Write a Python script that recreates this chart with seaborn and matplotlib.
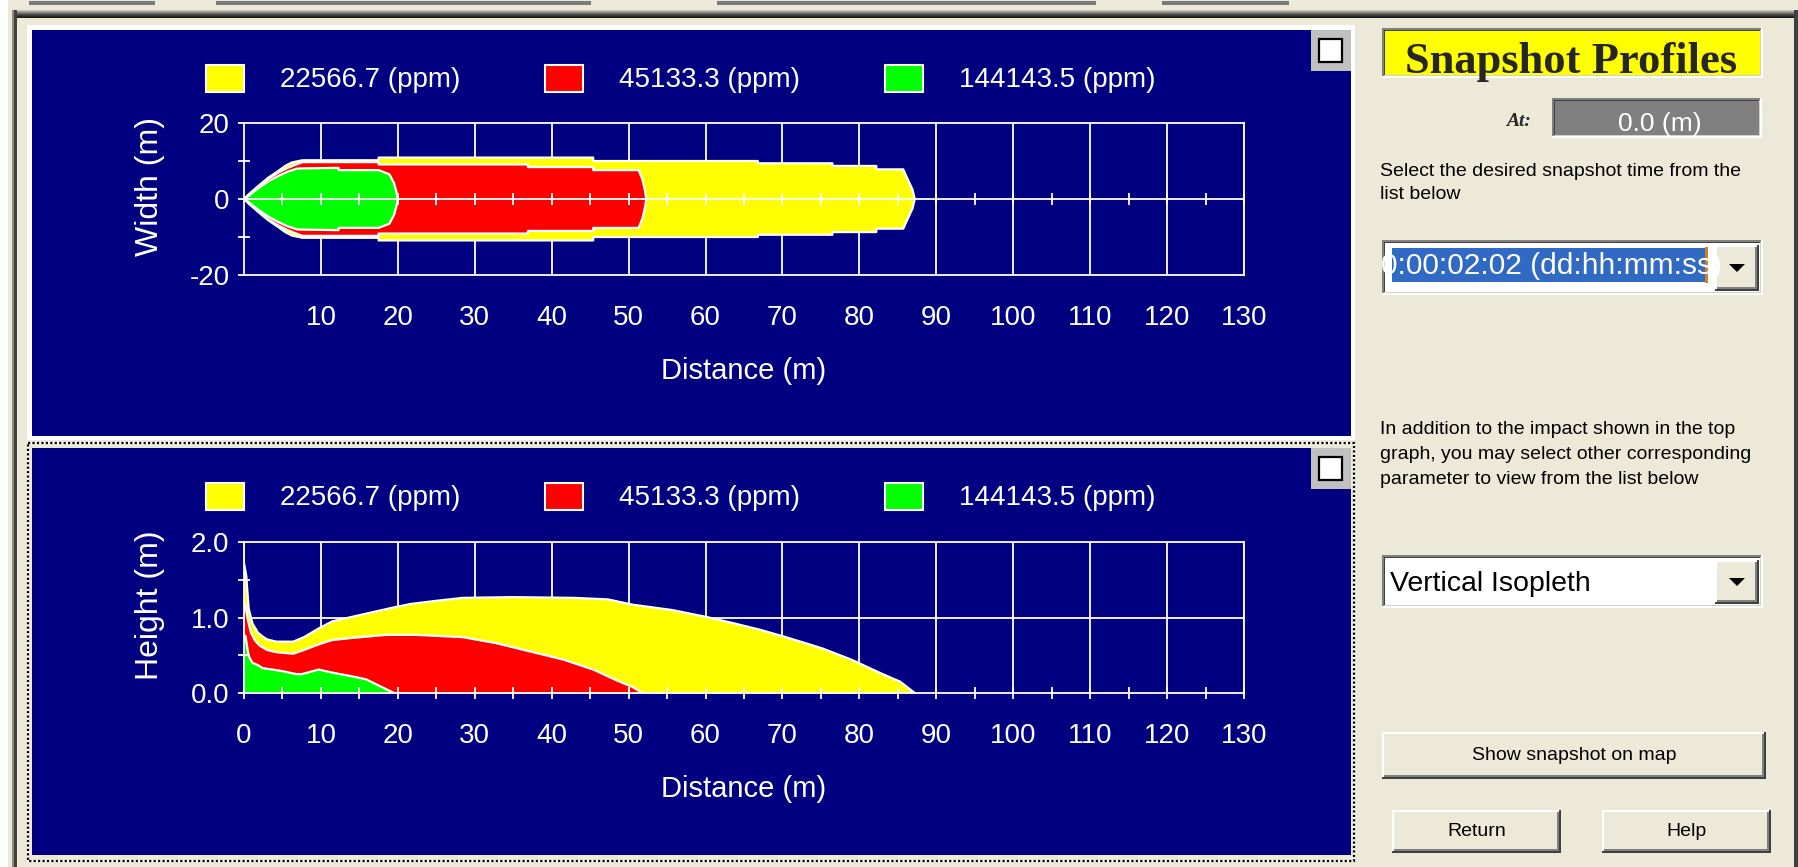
import matplotlib
matplotlib.use("Agg")
import matplotlib.pyplot as plt
from matplotlib.patches import Rectangle, Patch, Polygon
from matplotlib.ticker import FormatStrFormatter
import seaborn as sns

# ---------------------------------------------------------------- data
levels = ["22566.7 (ppm)", "45133.3 (ppm)", "144143.5 (ppm)"]
level_colors = ["#FFFF00", "#FF0000", "#00FF00"]

# plan view: half width of each concentration contour (m) vs distance (m)
yellow_dist = [0, 0.6, 1.9, 3.15, 4.4, 5.35, 6.2, 7.6, 17.5, 17.5, 45.4, 45.4,
               66.8, 66.8, 76.5, 76.5, 82.2, 82.2, 85.7, 86.3, 86.9, 87.2]
yellow_half_width = [0, 1.2, 3.5, 5.6, 7.3, 8.7, 9.6, 10.2, 10.2, 10.9, 10.9, 10.0,
                     10.0, 9.4, 9.4, 8.7, 8.7, 7.8, 7.8, 5.1, 2.5, 0]
red_dist = [0, 0.6, 1.9, 3.15, 4.4, 5.7, 6.8, 7.6, 17.5, 17.5, 36.9, 36.9,
            45.4, 45.4, 51.3, 51.8, 52.1, 52.3]
red_half_width = [0, 1.0, 3.3, 5.3, 6.9, 8.2, 9.1, 9.7, 9.7, 9.1, 9.1, 8.4,
                  8.4, 7.6, 7.6, 5.1, 2.5, 0]
green_dist = [0, 0.6, 1.9, 3.15, 4.4, 5.7, 6.9, 7.6, 12.3, 12.3, 17.5, 18.9,
              19.5, 19.8, 20.0]
green_half_width = [0, 0.8, 2.9, 4.6, 6.0, 7.2, 8.0, 8.05, 8.2, 7.6, 7.6, 6.5,
                    4.2, 2.0, 0]

# vertical isopleth: contour height (m) vs distance (m)
yellow_h_dist = [0, 0.3, 0.6, 1.1, 1.8, 2.4, 3.0, 4.2, 6.4, 7.8, 9.8, 11.5, 14.1,
                 16.7, 19.3, 21.7, 24.9, 28.4, 35.0, 42.9, 47.3, 50.5, 55.6, 60.0,
                 63.8, 67.0, 70.1, 73.0, 75.2, 79.0, 82.8, 85.3, 87.2]
yellow_height = [1.72, 1.55, 1.12, 0.92, 0.80, 0.75, 0.71, 0.68, 0.68, 0.74, 0.86,
                 0.95, 1.01, 1.07, 1.13, 1.18, 1.22, 1.26, 1.27, 1.26, 1.24, 1.17,
                 1.10, 1.01, 0.92, 0.84, 0.75, 0.66, 0.59, 0.44, 0.26, 0.15, 0.0]
red_h_dist = [0, 0.2, 0.5, 0.9, 1.4, 2.0, 3.0, 4.2, 6.4, 7.8, 9.6, 11.4, 14.1,
              18.5, 22.3, 28.4, 32.8, 37.2, 41.6, 45.4, 48.6, 50.5, 51.8]
red_height = [1.17, 1.15, 0.97, 0.80, 0.70, 0.63, 0.57, 0.54, 0.52, 0.57, 0.64,
              0.70, 0.73, 0.77, 0.77, 0.74, 0.66, 0.55, 0.44, 0.31, 0.16, 0.08, 0.0]
green_h_dist = [0, 0.2, 0.6, 1.1, 1.8, 2.4, 3.7, 5.0, 6.8, 7.5, 9.7, 11.5, 12.5,
                14.1, 15.9, 17.3, 18.9, 19.5]
green_height = [0.77, 0.75, 0.49, 0.40, 0.37, 0.33, 0.31, 0.29, 0.25, 0.25, 0.31,
                0.27, 0.25, 0.22, 0.18, 0.11, 0.03, 0.0]

plan_x_ticks = list(range(10, 131, 10))
side_x_ticks = list(range(0, 131, 10))
distance_marks = list(range(5, 131, 5))
width_ticks = [-20, 0, 20]
width_minor = [-10, 10]
height_ticks = [0.0, 1.0, 2.0]
height_minor = [0.5, 1.5]

snapshot_time = "0:00:02:02 (dd:hh:mm:ss)"
at_value = "0.0 (m)"
parameter = "Vertical Isopleth"

# ---------------------------------------------------------------- style
NAVY = "#000080"
BEIGE = "#ECE9D8"
W, H = 1799, 867

sns.set_style("ticks")
plt.rcParams["font.family"] = ["Liberation Sans", "DejaVu Sans"]
plt.rcParams["axes.unicode_minus"] = False

fig = plt.figure(figsize=(W / 100, H / 100), dpi=100, facecolor=BEIGE)

# pixel canvas for the window furniture
bg = fig.add_axes([0, 0, 1, 1], zorder=-5)
bg.set_xlim(0, W)
bg.set_ylim(H, 0)
bg.axis("off")


def box(x0, y0, x1, y1, color, **kw):
    p = Rectangle((x0, y0), x1 - x0, y1 - y0, facecolor=color,
                  edgecolor="none", **kw)
    bg.add_patch(p)
    return p


def sunken(x0, y0, x1, y1, fill):
    box(x0, y0, x1, y1, "#FFFFFF")
    box(x0, y0, x1 - 2, y1 - 2, "#808080")
    box(x0 + 2, y0 + 2, x1 - 2, y1 - 2, "#D4D0C8")
    box(x0 + 2, y0 + 2, x1 - 3, y1 - 3, "#404040")
    return box(x0 + 3, y0 + 3, x1 - 3, y1 - 3, fill)


def raised(x0, y0, x1, y1, fill=BEIGE):
    box(x0, y0, x1, y1, "#404040")
    box(x0, y0, x1 - 2, y1 - 2, "#FFFFFF")
    box(x0 + 2, y0 + 2, x1 - 2, y1 - 2, "#808080")
    box(x0 + 2, y0 + 2, x1 - 4, y1 - 4, fill)


def arrow_button(x0, y0, x1, y1):
    raised(x0, y0, x1, y1)
    cx, cy = (x0 + x1) / 2, (y0 + y1) / 2
    bg.add_patch(Polygon([[cx - 8, cy - 4], [cx + 8, cy - 4], [cx, cy + 4]],
                         closed=True, facecolor="black", edgecolor="none"))


# window frame
box(0, 0, 8, H, "#FFFFFF")
for x0, x1 in [(29, 155), (216, 591), (717, 1096), (1162, 1289)]:
    box(x0, 1, x1, 5, "#7A7A7A")
for i, c in enumerate(["#C9C7BC", "#A8A69C", "#8A8880", "#6A6964",
                       "#4E4D4A", "#363634", "#252524", "#1A1A1A"]):
    box(13, 10 + i, 1799, 11 + i, c)
box(12, 10, 17, H, "#404040")
box(12, 10, 14, H, "#8A8880")
box(1794, 10, 1799, H, "#404040")

# chart panels
box(27, 25, 1355, 440, "#FFFFFF")
box(32, 30, 1351, 436, NAVY)
bg.add_patch(Rectangle((28, 443), 1326, 418, facecolor="none",
                       edgecolor="white", linewidth=1.6))
bg.add_patch(Rectangle((28, 443), 1326, 418, facecolor="none",
                       edgecolor="black", linewidth=1.6, linestyle=(0, (1, 1))))
box(32, 448, 1351, 855, NAVY)
for top in (30, 448):
    box(1311, top, 1351, top + 41, "#C0C0C0")
    bg.add_patch(Rectangle((1319, top + 9), 23, 23, facecolor="white",
                           edgecolor="black", linewidth=1.6))

# side panel
title_fill = sunken(1382, 28, 1763, 78, "#FFFF00")
t = bg.text(1571, 73, "Snapshot Profiles", ha="center", va="baseline",
            fontsize=32, fontweight="bold", family="Liberation Serif")
t.set_clip_path(title_fill)

bg.text(1531, 126, "At:", ha="right", va="baseline", fontsize=14,
        fontweight="bold", fontstyle="italic", family="Liberation Serif")
at_fill = sunken(1552, 98, 1762, 138, "#808080")
t = bg.text(1660, 131, at_value, ha="center", va="baseline", fontsize=19,
            color="white")
t.set_clip_path(at_fill)

small = dict(fontsize=14, va="baseline", ha="left", color="black")
bg.text(1380, 176, "Select the desired snapshot time from the", **small)
bg.text(1380, 199, "list below", **small)

sunken(1382, 240, 1763, 295, "#FFFFFF")
sel = box(1392, 248, 1707, 282, "#316AC5")
t = bg.text(1381, 274, snapshot_time, ha="left", va="baseline", fontsize=21.5,
            color="white")
t.set_clip_path(sel)
box(1705, 247, 1708, 283, "#D08020")
arrow_button(1715, 245, 1759, 291)

bg.text(1380, 434, "In addition to the impact shown in the top", **small)
bg.text(1380, 459, "graph, you may select other corresponding", **small)
bg.text(1380, 484, "parameter to view from the list below", **small)

sunken(1382, 555, 1763, 608, "#FFFFFF")
bg.text(1390, 591, parameter, ha="left", va="baseline", fontsize=20.5,
        color="black")
arrow_button(1715, 560, 1759, 604)

for (x0, y0, x1, y1), label in [((1382, 732, 1766, 779), "Show snapshot on map"),
                                ((1392, 810, 1561, 853), "Return"),
                                ((1602, 810, 1771, 853), "Help")]:
    raised(x0, y0, x1, y1)
    bg.text((x0 + x1) / 2, (y0 + y1) / 2, label, ha="center", va="center",
            fontsize=14, color="black")


# ---------------------------------------------------------------- charts
def px_axes(left, top, right, bottom):
    return fig.add_axes([left / W, 1 - bottom / H, (right - left) / W,
                         (bottom - top) / H])


def style(ax):
    ax.set_facecolor(NAVY)
    ax.set_axisbelow(False)
    for s in ax.spines.values():
        s.set_color("white")
        s.set_linewidth(1.3)
    ax.tick_params(which="both", colors="white", labelcolor="white",
                   labelsize=20, width=1.3)
    ax.set_xlim(0, 130)


def grid_lines(ax, xs, ys):
    # grid sits underneath the plume fills
    for x in xs:
        ax.axvline(x, color="white", linewidth=1.3, zorder=0.5)
    for y in ys:
        ax.axhline(y, color="white", linewidth=1.3, zorder=0.5)


def legend(ax, y_px):
    handles = [Patch(facecolor=c, edgecolor="white", linewidth=1.5)
               for c in level_colors]
    ax.legend(handles, levels, loc="center left",
              bbox_to_anchor=(206 / W, 1 - y_px / H),
              bbox_transform=fig.transFigure, ncol=3, frameon=False,
              fontsize=20, labelcolor="white", handlelength=1.37,
              handleheight=1.12, handletextpad=1.3, columnspacing=3.05,
              borderpad=0, borderaxespad=0)


edge = dict(color="white", linewidth=1.6, estimator=None, sort=False,
            legend=False)

# plan view (width)
ax1 = px_axes(244, 123, 1244, 275)
style(ax1)
ax1.set_ylim(-20, 20)
ax1.set_xticks(plan_x_ticks)
ax1.set_yticks(width_ticks)
ax1.set_yticks(width_minor, minor=True)
grid_lines(ax1, plan_x_ticks, [])
ax1.tick_params(axis="x", which="both", length=0, pad=21.5)
ax1.tick_params(axis="y", which="major", direction="out", length=4.5, pad=6)
ax1.tick_params(axis="y", which="minor", direction="inout", length=9)
for xs, ws, c in [(yellow_dist, yellow_half_width, level_colors[0]),
                  (red_dist, red_half_width, level_colors[1]),
                  (green_dist, green_half_width, level_colors[2])]:
    neg = [-v for v in ws]
    ax1.fill_between(xs, neg, ws, color=c, linewidth=0, zorder=1)
    sns.lineplot(x=xs, y=ws, ax=ax1, zorder=2, **edge)
    sns.lineplot(x=xs, y=neg, ax=ax1, zorder=2, **edge)
ax1.axhline(0, color="white", linewidth=1.3, zorder=3)
ax1.plot(distance_marks, [0] * len(distance_marks), linestyle="none",
         marker="|", markersize=9, markeredgewidth=1.3, color="white", zorder=3)
ax1.set_xlabel("Distance (m)", color="white", fontsize=21)
ax1.xaxis.set_label_coords(0.5, -96 / 152)
ax1.xaxis.label.set_va("center")
ax1.set_ylabel("Width (m)", color="white", fontsize=23)
ax1.yaxis.set_label_coords(-94 / 1000, 88 / 152)
ax1.yaxis.label.set_va("center")
legend(ax1, 79)

# side view (height)
ax2 = px_axes(244, 542, 1244, 693)
style(ax2)
ax2.set_ylim(0, 2)
ax2.set_xticks(side_x_ticks)
ax2.set_xticks(distance_marks, minor=True)
ax2.set_yticks(height_ticks)
ax2.set_yticks(height_minor, minor=True)
ax2.yaxis.set_major_formatter(FormatStrFormatter("%.1f"))
grid_lines(ax2, side_x_ticks, [1.0])
ax2.tick_params(axis="x", which="both", direction="inout", length=9, pad=17)
ax2.tick_params(axis="y", which="major", direction="out", length=4.5, pad=6)
ax2.tick_params(axis="y", which="minor", direction="inout", length=9)
for xs, hs, c in [(yellow_h_dist, yellow_height, level_colors[0]),
                  (red_h_dist, red_height, level_colors[1]),
                  (green_h_dist, green_height, level_colors[2])]:
    ax2.fill_between(xs, 0, hs, color=c, linewidth=0, zorder=1)
    sns.lineplot(x=xs, y=hs, ax=ax2, zorder=2, **edge)
ax2.set_xlabel("Distance (m)", color="white", fontsize=21)
ax2.xaxis.set_label_coords(0.5, -96 / 151)
ax2.xaxis.label.set_va("center")
ax2.set_ylabel("Height (m)", color="white", fontsize=23)
ax2.yaxis.set_label_coords(-94 / 1000, 88 / 151)
ax2.yaxis.label.set_va("center")
legend(ax2, 497)

fig.savefig("out.png", dpi=100, facecolor=BEIGE)
